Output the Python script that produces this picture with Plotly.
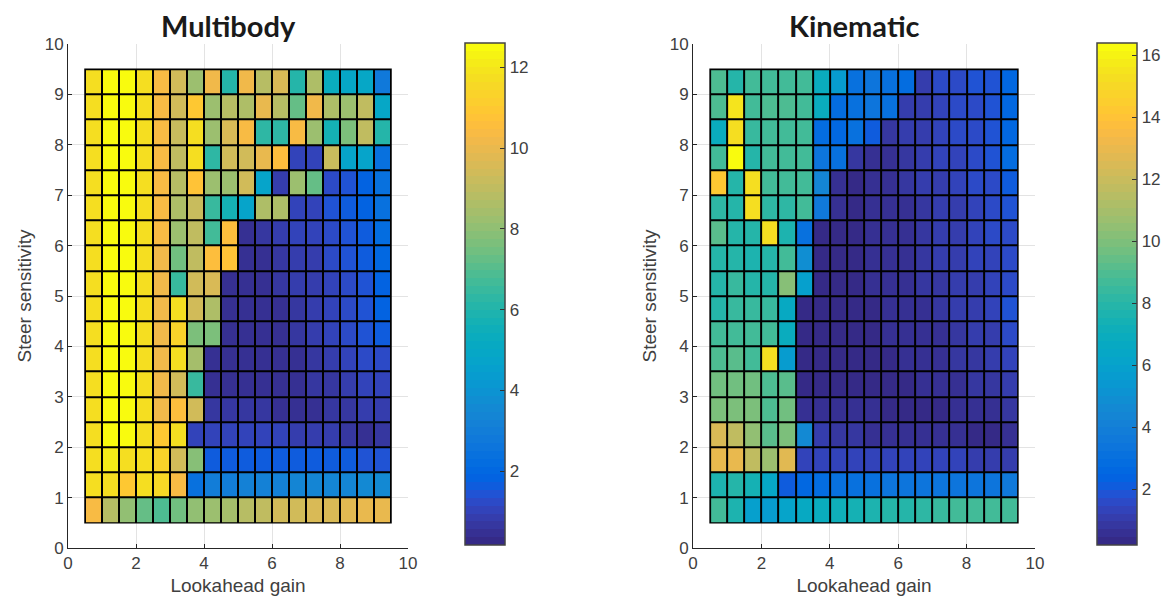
import plotly.graph_objects as go

x_centers = [0.75, 1.25, 1.75, 2.25, 2.75, 3.25, 3.75, 4.25, 4.75,
             5.25, 5.75, 6.25, 6.75, 7.25, 7.75, 8.25, 8.75, 9.25]
# rows listed from top (9.25) to bottom (0.75)
y_centers_top_down = [9.25, 8.75, 8.25, 7.75, 7.25, 6.75, 6.25, 5.75, 5.25,
                      4.75, 4.25, 3.75, 3.25, 2.75, 2.25, 1.75, 1.25, 0.75]

multibody = [
    [11.8, 12.5, 12.5, 11.8, 10.3, 9.3, 8.2, 10.2, 6.0, 10.2, 8.8, 9.6, 6.0, 8.6, 5.4, 4.9, 4.9, 2.8],
    [11.8, 12.5, 12.5, 11.8, 10.3, 9.3, 11.0, 8.2, 8.9, 8.6, 10.0, 8.9, 7.3, 10.2, 8.6, 8.2, 9.0, 4.9],
    [11.8, 12.5, 12.5, 11.8, 10.3, 9.2, 11.8, 8.2, 9.5, 10.4, 6.2, 6.2, 10.3, 8.3, 5.8, 7.6, 9.0, 6.0],
    [11.8, 12.5, 12.5, 11.8, 10.3, 9.0, 11.8, 6.3, 9.4, 9.4, 10.0, 10.6, 1.0, 1.0, 9.2, 4.8, 4.8, 2.4],
    [11.8, 12.5, 12.5, 11.8, 10.3, 8.9, 10.8, 8.2, 8.2, 9.3, 4.8, 0.9, 8.2, 7.3, 1.2, 1.5, 1.8, 2.4],
    [11.8, 12.5, 12.5, 11.8, 10.3, 8.7, 9.2, 6.5, 5.8, 4.8, 8.6, 8.6, 1.0, 1.0, 1.4, 1.7, 1.8, 2.4],
    [11.8, 12.5, 12.5, 11.8, 10.3, 8.3, 9.0, 6.6, 10.6, 0.5, 0.7, 0.8, 1.0, 1.0, 1.3, 1.5, 1.7, 2.3],
    [11.8, 12.5, 12.5, 11.8, 10.2, 7.4, 9.0, 10.6, 10.8, 0.4, 0.5, 0.6, 0.8, 0.9, 1.2, 1.4, 1.6, 2.0],
    [11.8, 12.5, 12.5, 11.8, 10.2, 6.5, 9.4, 9.6, 0.4, 0.4, 0.4, 0.6, 0.8, 0.9, 1.1, 1.3, 1.5, 1.8],
    [11.8, 12.5, 12.5, 11.8, 10.2, 11.8, 9.3, 8.6, 0.4, 0.4, 0.4, 0.5, 0.7, 0.8, 1.0, 1.3, 1.5, 1.9],
    [11.8, 12.5, 12.5, 11.8, 10.2, 11.3, 7.6, 7.6, 0.4, 0.4, 0.4, 0.5, 0.7, 0.8, 1.0, 1.2, 1.4, 1.6],
    [11.8, 12.5, 12.5, 11.8, 10.1, 11.8, 8.5, 0.4, 0.4, 0.4, 0.4, 0.4, 0.5, 0.6, 0.8, 1.0, 1.2, 1.3],
    [11.8, 12.5, 12.5, 11.8, 10.1, 9.4, 6.5, 0.5, 0.5, 0.5, 0.4, 0.4, 0.5, 0.6, 0.7, 0.9, 1.0, 1.1],
    [11.8, 12.5, 12.5, 11.8, 10.2, 10.5, 9.3, 0.7, 0.7, 0.7, 0.6, 0.5, 0.4, 0.4, 0.6, 0.7, 0.8, 0.9],
    [11.8, 12.5, 12.5, 11.8, 10.9, 11.8, 1.1, 1.1, 1.1, 1.1, 1.0, 1.0, 0.9, 0.9, 0.8, 0.6, 0.5, 0.6],
    [11.8, 12.2, 11.8, 11.8, 11.3, 9.4, 7.8, 1.6, 1.6, 1.7, 1.7, 1.7, 1.7, 1.7, 1.6, 1.6, 1.5, 1.5],
    [11.8, 11.8, 11.0, 11.8, 11.5, 10.3, 2.5, 2.9, 3.0, 3.1, 3.2, 3.2, 3.3, 3.4, 3.4, 3.4, 3.5, 3.6],
    [10.3, 8.9, 8.0, 7.2, 6.9, 7.4, 8.1, 8.3, 8.5, 8.8, 9.0, 9.3, 9.4, 9.5, 9.6, 9.8, 9.9, 10.0],
]

kinematic = [
    [9.0, 7.8, 8.8, 8.8, 8.8, 8.8, 6.8, 5.7, 3.0, 3.3, 3.1, 2.8, 1.2, 1.5, 1.7, 1.8, 1.9, 2.6],
    [9.0, 15.5, 8.8, 9.0, 9.0, 8.8, 7.0, 2.9, 3.2, 3.4, 3.2, 1.0, 1.1, 1.4, 1.6, 1.7, 1.9, 2.5],
    [6.8, 15.3, 8.5, 8.8, 8.8, 8.8, 2.9, 2.6, 3.1, 2.1, 0.9, 1.0, 1.1, 1.4, 1.5, 1.7, 1.9, 2.7],
    [8.8, 16.3, 8.0, 8.8, 8.8, 8.8, 3.4, 3.0, 0.8, 0.6, 0.7, 0.8, 1.0, 1.3, 1.4, 1.6, 1.8, 2.9],
    [14.2, 8.0, 15.3, 8.8, 8.8, 8.8, 4.5, 0.6, 0.4, 0.6, 0.7, 0.8, 1.0, 1.2, 1.3, 1.5, 1.7, 2.0],
    [8.2, 8.0, 15.3, 8.2, 8.2, 8.6, 3.5, 0.5, 0.4, 0.5, 0.6, 0.7, 0.9, 1.1, 1.2, 1.4, 1.6, 1.8],
    [9.3, 8.0, 7.8, 15.3, 7.6, 3.0, 0.4, 0.4, 0.4, 0.5, 0.6, 0.7, 0.9, 1.0, 1.2, 1.3, 1.5, 1.7],
    [7.8, 7.8, 7.6, 7.8, 8.6, 5.0, 0.4, 0.4, 0.4, 0.5, 0.6, 0.7, 0.8, 1.0, 1.1, 1.3, 1.4, 1.6],
    [7.8, 8.4, 7.8, 7.8, 10.3, 5.8, 0.4, 0.4, 0.4, 0.5, 0.5, 0.6, 0.8, 0.9, 1.1, 1.2, 1.4, 1.5],
    [7.8, 8.4, 8.4, 8.4, 6.6, 0.4, 0.4, 0.4, 0.4, 0.4, 0.5, 0.6, 0.7, 0.8, 1.0, 1.1, 1.3, 1.8],
    [8.6, 8.8, 8.6, 8.6, 6.8, 0.4, 0.4, 0.4, 0.4, 0.4, 0.5, 0.5, 0.6, 0.7, 0.9, 1.0, 1.2, 1.5],
    [9.0, 9.3, 8.8, 15.3, 5.6, 0.4, 0.4, 0.4, 0.4, 0.4, 0.4, 0.5, 0.6, 0.7, 0.8, 0.9, 1.1, 1.4],
    [9.6, 9.6, 9.6, 9.0, 9.2, 0.4, 0.4, 0.4, 0.4, 0.4, 0.4, 0.4, 0.5, 0.6, 0.7, 0.8, 0.9, 1.2],
    [10.0, 10.0, 10.0, 9.0, 9.6, 0.7, 0.6, 0.6, 0.5, 0.5, 0.4, 0.4, 0.4, 0.4, 0.5, 0.6, 0.7, 0.9],
    [12.5, 11.8, 10.5, 9.3, 10.0, 4.6, 1.0, 0.9, 0.8, 0.7, 0.7, 0.6, 0.5, 0.5, 0.5, 0.4, 0.4, 0.5],
    [13.0, 13.0, 11.8, 10.8, 12.8, 1.4, 1.4, 1.4, 1.4, 1.4, 1.4, 1.4, 1.3, 1.3, 1.3, 1.2, 1.1, 1.0],
    [7.6, 7.8, 7.4, 6.4, 2.1, 2.5, 2.8, 3.0, 3.1, 3.2, 3.3, 3.3, 3.3, 3.3, 3.3, 3.3, 3.4, 3.5],
    [8.6, 7.6, 5.8, 5.6, 6.2, 6.6, 7.0, 7.2, 7.4, 7.6, 7.8, 8.0, 8.2, 8.4, 8.6, 8.6, 8.8, 8.8],
]

titles = ["Multibody", "Kinematic"]
color_ranges = [(0.17, 12.6), (0.2, 16.4)]
cbar_ticks = [[2, 4, 6, 8, 10, 12], [2, 4, 6, 8, 10, 12, 14, 16]]
x_ticks = [0, 2, 4, 6, 8, 10]
y_ticks = [0, 1, 2, 3, 4, 5, 6, 7, 8, 9, 10]
x_label = "Lookahead gain"
y_label = "Steer sensitivity"

parula_rgb = [
    (0.2081, 0.1663, 0.5292), (0.2116, 0.1898, 0.5777), (0.2123, 0.2138, 0.6270),
    (0.2081, 0.2386, 0.6771), (0.1959, 0.2645, 0.7279), (0.1707, 0.2919, 0.7792),
    (0.1253, 0.3242, 0.8303), (0.0591, 0.3598, 0.8683), (0.0117, 0.3875, 0.8820),
    (0.0060, 0.4086, 0.8828), (0.0165, 0.4266, 0.8786), (0.0329, 0.4430, 0.8720),
    (0.0498, 0.4586, 0.8641), (0.0629, 0.4737, 0.8554), (0.0723, 0.4887, 0.8467),
    (0.0779, 0.5040, 0.8384), (0.0793, 0.5200, 0.8312), (0.0749, 0.5375, 0.8263),
    (0.0641, 0.5570, 0.8240), (0.0488, 0.5772, 0.8228), (0.0343, 0.5966, 0.8199),
    (0.0265, 0.6137, 0.8135), (0.0239, 0.6287, 0.8038), (0.0231, 0.6418, 0.7913),
    (0.0228, 0.6535, 0.7768), (0.0267, 0.6642, 0.7607), (0.0384, 0.6743, 0.7436),
    (0.0590, 0.6838, 0.7254), (0.0843, 0.6928, 0.7062), (0.1133, 0.7015, 0.6859),
    (0.1453, 0.7098, 0.6646), (0.1801, 0.7177, 0.6424), (0.2178, 0.7250, 0.6193),
    (0.2586, 0.7317, 0.5954), (0.3022, 0.7376, 0.5712), (0.3482, 0.7424, 0.5473),
    (0.3953, 0.7459, 0.5244), (0.4420, 0.7481, 0.5033), (0.4871, 0.7491, 0.4840),
    (0.5300, 0.7491, 0.4661), (0.5709, 0.7485, 0.4494), (0.6099, 0.7473, 0.4337),
    (0.6473, 0.7456, 0.4188), (0.6834, 0.7435, 0.4044), (0.7184, 0.7411, 0.3905),
    (0.7525, 0.7384, 0.3768), (0.7858, 0.7356, 0.3633), (0.8185, 0.7327, 0.3498),
    (0.8507, 0.7299, 0.3360), (0.8824, 0.7274, 0.3217), (0.9139, 0.7258, 0.3063),
    (0.9450, 0.7261, 0.2886), (0.9739, 0.7314, 0.2666), (0.9938, 0.7455, 0.2403),
    (0.9990, 0.7653, 0.2164), (0.9955, 0.7861, 0.1967), (0.9880, 0.8066, 0.1794),
    (0.9789, 0.8271, 0.1633), (0.9697, 0.8481, 0.1475), (0.9626, 0.8705, 0.1309),
    (0.9589, 0.8949, 0.1132), (0.9598, 0.9218, 0.0948), (0.9661, 0.9514, 0.0755),
    (0.9763, 0.9831, 0.0538),
]
n = len(parula_rgb)
parula = []
for i, (r, g, b) in enumerate(parula_rgb):
    c = "rgb(%d,%d,%d)" % (round(r * 255), round(g * 255), round(b * 255))
    parula.append([i / n, c])
    parula.append([(i + 1) / n if i < n - 1 else 1.0, c])

W, H = 1165, 614
ML, MR, MT, MB = 60, 20, 44, 66
PW, PH = W - ML - MR, H - MT - MB


def fx(px):
    return (px - ML) / PW


def fy(py):
    return (H - MB - py) / PH


x_domains = [(fx(68), fx(408)), (fx(693), fx(1035))]
y_domain = (fy(548), fy(44))
cbar_x = [fx(465), fx(1097)]
cbar_top, cbar_bot = 43, 545

font_family = "Liberation Sans, Arial, sans-serif"
tick_color = "#404040"

fig = go.Figure()
y_centers = y_centers_top_down[::-1]
datasets = [multibody, kinematic]
for k in range(2):
    z = datasets[k][::-1]
    zmin, zmax = color_ranges[k]
    xr = "x" if k == 0 else "x2"
    yr = "y" if k == 0 else "y2"
    # black backing so the cell gaps look like MATLAB's black edges
    half_w = (x_centers[1] - x_centers[0]) / 2
    half_h = (y_centers[1] - y_centers[0]) / 2
    fig.add_shape(
        type="rect", layer="between", xref=xr, yref=yr,
        x0=x_centers[0] - half_w, x1=x_centers[-1] + half_w,
        y0=y_centers[0] - half_h, y1=y_centers[-1] + half_h,
        fillcolor="black", line=dict(color="black", width=1.5),
    )
    fig.add_trace(go.Heatmap(
        x=x_centers, y=y_centers, z=z, xaxis=xr, yaxis=yr,
        colorscale=parula, zmin=zmin, zmax=zmax,
        xgap=2, ygap=2,
        colorbar=dict(
            x=cbar_x[k], xanchor="left",
            y=(fy(cbar_top) + fy(cbar_bot)) / 2, yanchor="middle",
            len=fy(cbar_top) - fy(cbar_bot), lenmode="fraction",
            thickness=40, thicknessmode="pixels",
            outlinewidth=1.5, outlinecolor="#444444",
            tickvals=cbar_ticks[k], ticks="inside", ticklen=5, tickcolor="#333333",
            tickfont=dict(family=font_family, size=17, color=tick_color),
            xpad=0, ypad=0,
        ),
    ))
    fig.add_annotation(
        text=titles[k], xref="paper", yref="paper",
        x=(x_domains[k][0] + x_domains[k][1]) / 2, y=y_domain[1],
        xanchor="center", yanchor="bottom", yshift=-1, xshift=-10, showarrow=False,
        font=dict(family="Lato, Open Sans, sans-serif", size=29, color="#1a1a1a", weight="bold"),
    )

axis_common = dict(
    range=[0, 10], showgrid=True, gridcolor="#e3e3e3",
    gridwidth=1, zeroline=False, showline=True, linecolor="#262626", linewidth=1,
    ticks="inside", ticklen=4, tickcolor="#262626", automargin=False,
    tickfont=dict(family=font_family, size=17, color=tick_color),
)


def xaxis(domain, anchor):
    return dict(domain=domain, anchor=anchor, tickvals=x_ticks,
                title=dict(text=x_label, standoff=6,
                           font=dict(family=font_family, size=19, color=tick_color)),
                **axis_common)


def yaxis(domain, anchor):
    return dict(domain=domain, anchor=anchor, tickvals=y_ticks,
                title=dict(text=y_label, standoff=8,
                           font=dict(family=font_family, size=19, color=tick_color)),
                **axis_common)


fig.update_layout(
    width=W, height=H, margin=dict(l=ML, r=MR, t=MT, b=MB, autoexpand=False),
    paper_bgcolor="white", plot_bgcolor="white", showlegend=False,
    xaxis=xaxis(x_domains[0], "y"),
    yaxis=yaxis(y_domain, "x"),
    xaxis2=xaxis(x_domains[1], "y2"),
    yaxis2=yaxis(y_domain, "x2"),
)

fig.write_html("out.html")
